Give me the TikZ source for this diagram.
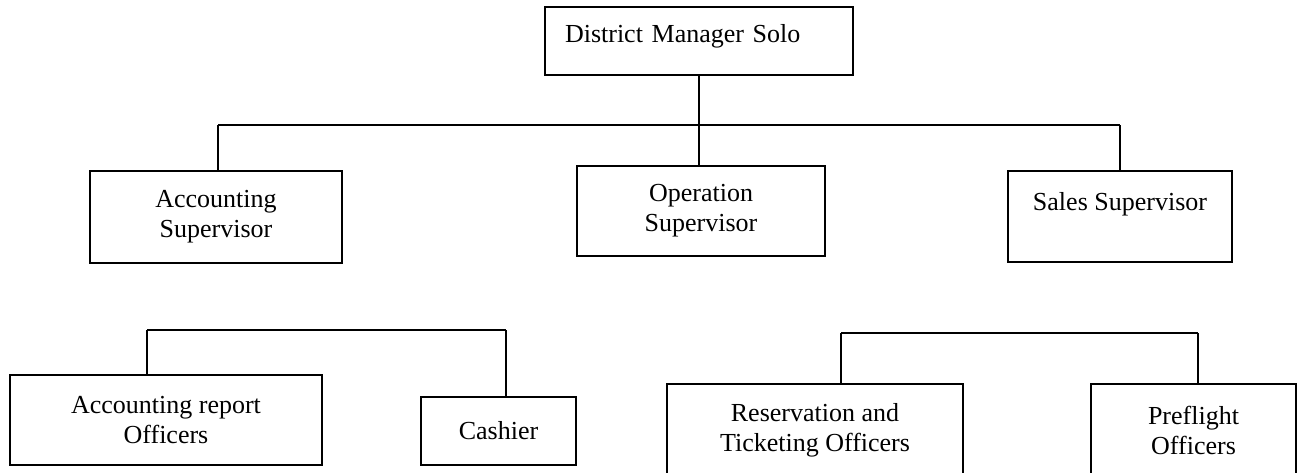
\documentclass[tikz,border=0pt]{standalone}
\usepackage{fontspec}
\setmainfont{Liberation Serif}
\usetikzlibrary{calc}

\begin{document}
\begin{tikzpicture}[x=1pt,y=-1pt,
  post/.style={draw,rectangle,line width=1.5pt,inner sep=0pt,align=center,font=\fontsize{26}{30}\selectfont},
  wire/.style={line width=1.5pt}]
\useasboundingbox (0,0) rectangle (1299,472);
\clip (0,0) rectangle (1299,472);

\draw node [post,align=left,text width=268pt,inner xsep=20pt,inner ysep=17pt,text height=18pt,text depth=16pt](dm) at (699,41){District Manager Solo};

\draw node [post,minimum width=252pt,minimum height=92pt](acct) at (216,217){Accounting\\Supervisor};
\draw node [post,minimum width=248pt,minimum height=90pt](op) at (701,211){Operation\\Supervisor};
\draw node [post,minimum width=224pt,minimum height=91pt](sales) at (1120,216.5){Sales Supervisor\\~};

\draw node [post,minimum width=312pt,minimum height=90pt](arep) at (166,420){Accounting report\\Officers};
\draw node [post,minimum width=155pt,minimum height=68pt](cash) at (498.5,431){Cashier};

\draw node [post,minimum width=296pt,minimum height=92pt](resv) at (815,430){Reservation and\\Ticketing Officers};
\draw node [post,minimum width=205pt,minimum height=92pt](pref) at (1193.5,430){Preflight\\Officers};

\coordinate (busa) at (218,125);
\coordinate (busb) at (1120,125);
\draw[wire] (busa) -- (busb);
\draw[wire] (busa) -- (busa |- acct.north);
\draw[wire] (busb) -- (busb |- sales.north);
\draw[wire] (dm.south) -- (dm.south |- op.north);

\coordinate (busc) at (147,330);
\coordinate (busd) at (506,330);
\draw[wire] (busc) -- (busd);
\draw[wire] (busc) -- (busc |- arep.north);
\draw[wire] (busd) -- (busd |- cash.north);

\coordinate (buse) at (841,333);
\coordinate (busf) at (1198,333);
\draw[wire] (buse) -- (busf);
\draw[wire] (buse) -- (buse |- resv.north);
\draw[wire] (busf) -- (busf |- pref.north);

\end{tikzpicture}
\end{document}
